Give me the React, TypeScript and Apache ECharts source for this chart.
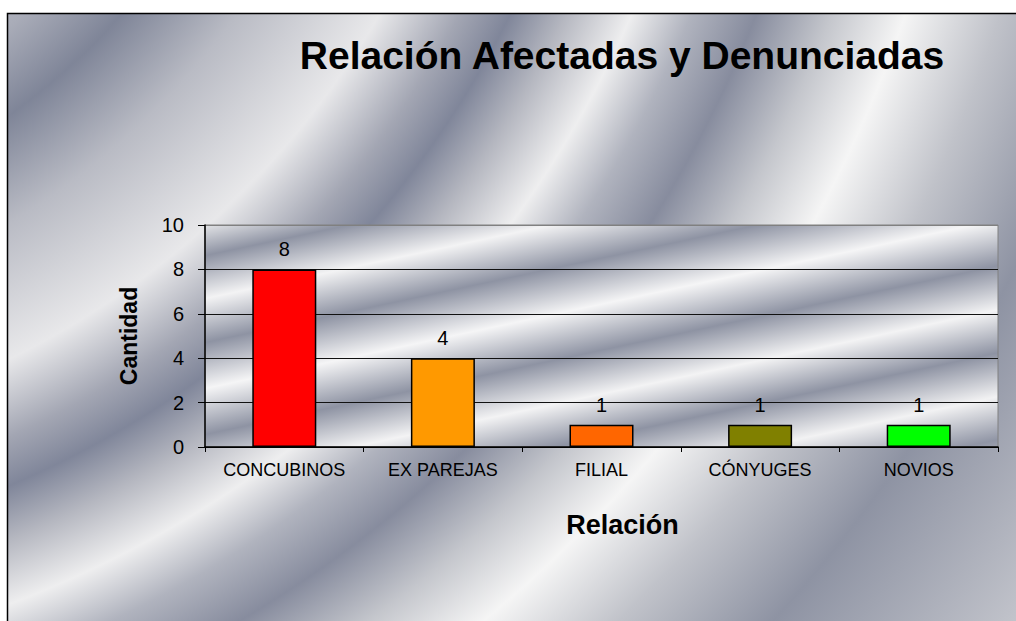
import React, { useEffect, useRef } from "react";
import * as echarts from "echarts";

const categories = ["CONCUBINOS", "EX PAREJAS", "FILIAL", "CÓNYUGES", "NOVIOS"];
const values = [8, 4, 1, 1, 1];
const barColors = ["#FF0000", "#FF9900", "#FF6600", "#808000", "#00FF00"];
const titleText = "Relación Afectadas y Denunciadas";
const xName = "Relación";
const yName = "Cantidad";
const yMin = 0;
const yMax = 10;
const yStep = 2;

const FONT = "'Liberation Sans', Arial, sans-serif";

export default function App() {
  const ref = useRef<HTMLDivElement>(null);

  useEffect(() => {
    if (!ref.current) return;
    const chart = echarts.init(ref.current, undefined, { renderer: "svg" });

    const R = 1800;
    const outerStops: [number, string][] = [
      [0, "#d4d5da"],
      [500, "#c8c9d0"],
      [600, "#a9acb8"],
      [670, "#7f8598"],
      [760, "#b9bbc4"],
      [880, "#e8e8ea"],
      [950, "#a3a6b3"],
      [995, "#80869a"],
      [1045, "#b5b7c0"],
      [1105, "#eeeeef"],
      [1160, "#b0b3be"],
      [1220, "#878c9e"],
      [1290, "#c4c6cc"],
      [1360, "#f5f5f5"],
      [1450, "#c0c2c9"],
      [1560, "#8e93a3"],
      [1800, "#d0d1d6"],
    ];
    const outerGrad = new echarts.graphic.RadialGradient(
      -380,
      -430,
      R,
      outerStops.map(([r, c]) => ({ offset: r / R, color: c })),
      true
    );

    const P = 382;
    const plotStops: [number, string][] = [
      [0, "#e2e3e6"],
      [30, "#8e93a3"],
      [72, "#f3f3f4"],
      [115, "#8e93a3"],
      [160, "#f5f5f6"],
      [205, "#8e93a3"],
      [248, "#f3f3f4"],
      [290, "#8e93a3"],
      [333, "#f2f2f3"],
      [375, "#9095a5"],
      [382, "#9ca0ae"],
    ];
    const plotGrad = new echarts.graphic.LinearGradient(
      205,
      225,
      284.5,
      598.6,
      plotStops.map(([p, c]) => ({ offset: p / P, color: c })),
      true
    );

    chart.setOption({
      animation: false,
      backgroundColor: "#ffffff",
      graphic: [
        {
          type: "rect",
          z: -10,
          silent: true,
          shape: { x: 7.5, y: 13.5, width: 1100, height: 700 },
          style: { fill: outerGrad as any, stroke: "#000", lineWidth: 1.5 },
        },
      ],
      title: {
        text: titleText,
        left: 622,
        top: 36,
        textAlign: "center",
        padding: 0,
        textStyle: {
          fontFamily: FONT,
          fontSize: 39,
          fontWeight: "bold",
          color: "#000",
        },
      },
      grid: {
        left: 205,
        top: 225,
        right: 18,
        bottom: 174,
        show: true,
        backgroundColor: plotGrad as any,
        borderColor: "#808080",
        borderWidth: 1,
        containLabel: false,
      },
      xAxis: {
        type: "category",
        data: categories,
        name: xName,
        nameLocation: "middle",
        nameGap: 64,
        nameTextStyle: {
          fontFamily: FONT,
          fontSize: 27,
          fontWeight: "bold",
          color: "#000",
          padding: [0, 0, 0, 42],
        },
        axisLine: { show: true, lineStyle: { color: "#000", width: 1.5 } },
        axisTick: { show: true, alignWithLabel: false, length: 5, lineStyle: { color: "#000" } },
        axisLabel: {
          margin: 14,
          fontFamily: FONT,
          fontSize: 18,
          color: "#000",
          interval: 0,
        },
        splitLine: { show: false },
      },
      yAxis: {
        type: "value",
        min: yMin,
        max: yMax,
        interval: yStep,
        name: yName,
        nameLocation: "middle",
        nameGap: 65,
        nameTextStyle: {
          fontFamily: FONT,
          fontSize: 23,
          fontWeight: "bold",
          color: "#000",
        },
        axisLine: { show: true, lineStyle: { color: "#000", width: 1.5 } },
        axisTick: { show: true, inside: false, length: 7, lineStyle: { color: "#000" } },
        axisLabel: {
          margin: 21,
          fontFamily: FONT,
          fontSize: 20,
          color: "#000",
        },
        splitLine: {
          show: true,
          lineStyle: {
            color: ["#000", "#111", "#111", "#111", "#111", "#808080"],
            width: 1,
          },
        },
      },
      series: [
        {
          type: "bar",
          data: values.map((v, i) => ({ value: v, itemStyle: { color: barColors[i] } })),
          barWidth: 64,
          itemStyle: { borderColor: "#000", borderWidth: 1.5 },
          label: {
            show: true,
            position: "top",
            distance: 10,
            fontFamily: FONT,
            fontSize: 20,
            color: "#000",
          },
        },
      ],
    });

    return () => chart.dispose();
  }, []);

  return (
    <div
      ref={ref}
      style={{ position: "fixed", left: 0, top: 0, width: 1016, height: 621 }}
    />
  );
}
